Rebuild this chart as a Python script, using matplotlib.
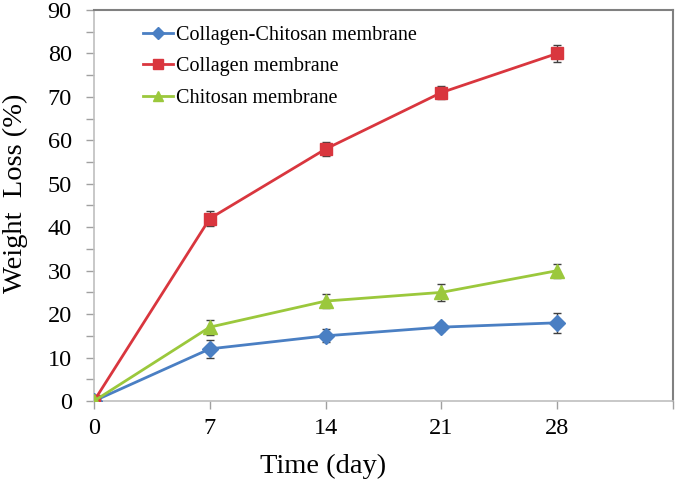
import numpy as np
import matplotlib.pyplot as plt
from matplotlib.ticker import MultipleLocator

plt.rcParams['font.family'] = ['Liberation Serif', 'DejaVu Serif']

# Datos
days = [0, 7, 14, 21, 28]
collagen_chitosan = [0, 12, 15, 17, 18]
collagen_chitosan_err = [0, 2, 1.5, 1, 2.3]
collagen = [0, 42, 58, 71, 80]
collagen_err = [0, 1.8, 1.6, 1.4, 2]
chitosan = [0, 17, 23, 25, 30]
chitosan_err = [0, 1.7, 1.7, 2, 1.6]

labels = ['Collagen-Chitosan membrane', 'Collagen membrane', 'Chitosan membrane']
colors = ['#4a7fc3', '#d9363e', '#9bc83c']
markers = ['D', 's', '^']
sizes = [8, 9, 10]

fig = plt.figure(figsize=(6.75, 4.96), dpi=100)
ax = fig.add_axes([94 / 675, 1 - 401 / 496, 579 / 675, 391 / 496])

series = [(collagen_chitosan, collagen_chitosan_err),
          (collagen, collagen_err),
          (chitosan, chitosan_err)]

for (vals, err), lab, c, m, s in zip(series, labels, colors, markers, sizes):
    ax.errorbar(days, vals, yerr=err, fmt='none', ecolor='#404040',
                elinewidth=1, capsize=3, capthick=1, zorder=2)
    ax.plot(days, vals, color=c, marker=m, markersize=s, linewidth=2,
            label=lab, zorder=3)

ax.set_xlim(0, 35)
ax.set_ylim(0, 90)
ax.set_xticks([0, 7, 14, 21, 28, 35])
ax.set_xticklabels(['0', '7', '14', '21', '28', ''])
ax.yaxis.set_major_locator(MultipleLocator(10))
ax.yaxis.set_minor_locator(MultipleLocator(5))

ax.tick_params(axis='both', which='both', direction='out', color='#a0a0a0',
               labelsize=17.5, length=6, width=1)
ax.tick_params(axis='x', pad=6)
ax.tick_params(axis='y', pad=10)

for side in ['left', 'bottom']:
    ax.spines[side].set_color('#bfbfbf')
    ax.spines[side].set_linewidth(1.2)
for side in ['top', 'right']:
    ax.spines[side].set_color('#808080')
    ax.spines[side].set_linewidth(1.5)

ax.set_xlabel('Time (day)', fontsize=20.5)
ax.set_ylabel('Weight  Loss (%)', fontsize=20.5)
# títulos de eje desplazados como en el original
ax.xaxis.set_label_coords(0.395, -0.135)
ax.yaxis.set_label_coords(-0.114, 0.53)

ax.legend(loc='upper left', bbox_to_anchor=(0.0535, 1.005), frameon=False,
          fontsize=14.5, handlelength=1.5, handletextpad=0.15, labelspacing=0.6,
          markerscale=0.75)

fig.savefig('out.png', dpi=100)
